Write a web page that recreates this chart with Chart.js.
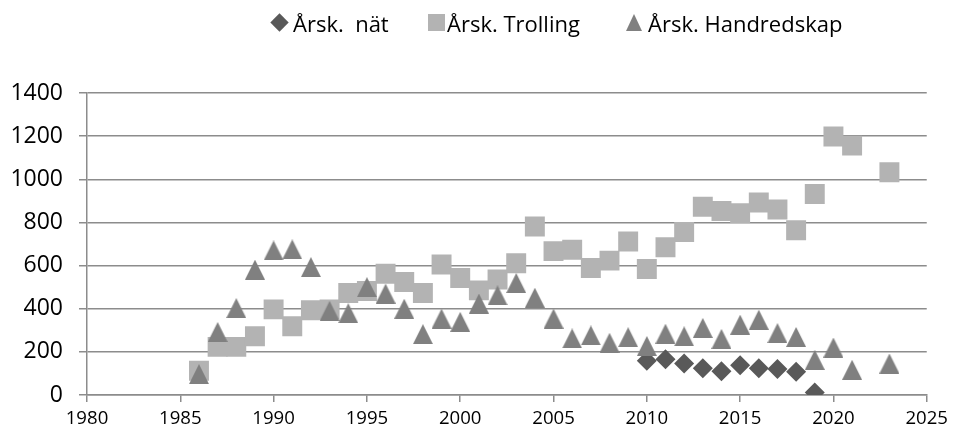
<!DOCTYPE html>
<html>
<head>
<meta charset="utf-8">
<script src="https://cdn.jsdelivr.net/npm/chart.js@4/dist/chart.umd.min.js"></script>
<style>
  body { margin: 0; background: #fff; }
  #wrap { position: relative; width: 954px; height: 439px; }
  .leg { position: absolute; font: 22px "Open Sans", sans-serif; line-height: 20px; top: 13px; color: #000; white-space: pre; }
  .mk { position: absolute; }
</style>
</head>
<body>
<div id="wrap">
  <canvas id="chart" width="954" height="439"></canvas>
  <!-- legend, placed by hand like the original -->
  <div class="mk" style="left:273px;top:16px;width:13px;height:13px;background:#595959;transform:rotate(45deg)"></div>
  <div class="leg" style="left:293px">Årsk.  nät</div>
  <div class="mk" style="left:428px;top:14px;width:17px;height:17px;background:#b3b3b3"></div>
  <div class="leg" style="left:447px">Årsk. Trolling</div>
  <div class="mk" style="left:626px;top:14px;width:0;height:0;border-left:8.5px solid transparent;border-right:8.5px solid transparent;border-bottom:17px solid #808080"></div>
  <div class="leg" style="left:648px">Årsk. Handredskap</div>
</div>
<script>
// yearly catches
const natYears = [2010, 2011, 2012, 2013, 2014, 2015, 2016, 2017, 2018, 2019];
const natValues = [159, 166, 146, 124, 110, 138, 124, 120, 108, 12];

const years = [1986, 1987, 1988, 1989, 1990, 1991, 1992, 1993, 1994, 1995,
  1996, 1997, 1998, 1999, 2000, 2001, 2002, 2003, 2004, 2005,
  2006, 2007, 2008, 2009, 2010, 2011, 2012, 2013, 2014, 2015,
  2016, 2017, 2018, 2019, 2020, 2021, 2023];
const trollingValues = [112, 223, 223, 272, 397, 319, 393, 397, 473, 482,
  562, 524, 473, 605, 542, 485, 535, 611, 781, 667,
  673, 589, 623, 712, 584, 685, 756, 873, 853, 843,
  892, 860, 764, 932, 1198, 1156, 1033];
const handValues = [97, 292, 403, 581, 670, 675, 593, 390, 379, 500,
  470, 400, 282, 354, 339, 424, 462, 519, 451, 354,
  262, 276, 242, 268, 227, 284, 272, 311, 260, 326,
  349, 287, 269, 163, 220, 117, 146];

const xTicks = { min: 1980, max: 2025, step: 5 };
const yTicks = { min: 0, max: 1400, step: 200 };

const toPoints = (xs, ys) => xs.map((x, i) => ({ x: x, y: ys[i] }));

// excel style triangle marker (20 wide, 20 tall, centred on its box)
const tri = document.createElement('canvas');
tri.width = 20;
tri.height = 20;
const tctx = tri.getContext('2d');
tctx.fillStyle = '#808080';
tctx.beginPath();
tctx.moveTo(10, 0);
tctx.lineTo(20, 20);
tctx.lineTo(0, 20);
tctx.closePath();
tctx.fill();

const gridGray = '#8c8c8c';

new Chart(document.getElementById('chart'), {
  type: 'scatter',
  data: {
    datasets: [{
      label: 'Årsk.  nät',
      data: toPoints(natYears, natValues),
      pointStyle: 'rectRot',
      pointRadius: 10,
      pointHoverRadius: 10,
      borderWidth: 0,
      backgroundColor: '#595959',
      order: 2
    }, {
      label: 'Årsk. Trolling',
      data: toPoints(years, trollingValues),
      pointStyle: 'rect',
      pointRadius: 14.1,
      pointHoverRadius: 14.1,
      borderWidth: 0,
      backgroundColor: '#b3b3b3',
      order: 1
    }, {
      label: 'Årsk. Handredskap',
      data: toPoints(years, handValues),
      pointStyle: tri,
      pointRadius: 10,
      backgroundColor: '#808080',
      order: 0
    }]
  },
  options: {
    responsive: false,
    devicePixelRatio: 1,
    animation: false,
    layout: { padding: { top: 93, right: 26, left: 0, bottom: 0 } },
    plugins: { legend: { display: false }, tooltip: { enabled: false } },
    scales: {
      x: {
        type: 'linear',
        min: xTicks.min,
        max: xTicks.max,
        afterFit: s => { s.height = 44; },
        ticks: {
          stepSize: xTicks.step,
          padding: 6,
          color: '#000',
          font: { family: 'Open Sans', size: 18.6 },
          callback: v => String(v),
          maxRotation: 0
        },
        grid: { drawOnChartArea: false, drawTicks: true, tickLength: 7, color: gridGray, lineWidth: 1.5 },
        border: { color: gridGray, width: 1.5 }
      },
      y: {
        min: yTicks.min,
        max: yTicks.max,
        afterFit: s => { s.width = 87; },
        ticks: {
          stepSize: yTicks.step,
          padding: 16,
          color: '#000',
          font: { family: 'Open Sans', size: 23 },
          callback: v => String(v)
        },
        grid: { color: gridGray, lineWidth: 1.5, tickLength: 8 },
        border: { color: gridGray, width: 1.5 }
      }
    }
  }
});
</script>
</body>
</html>
